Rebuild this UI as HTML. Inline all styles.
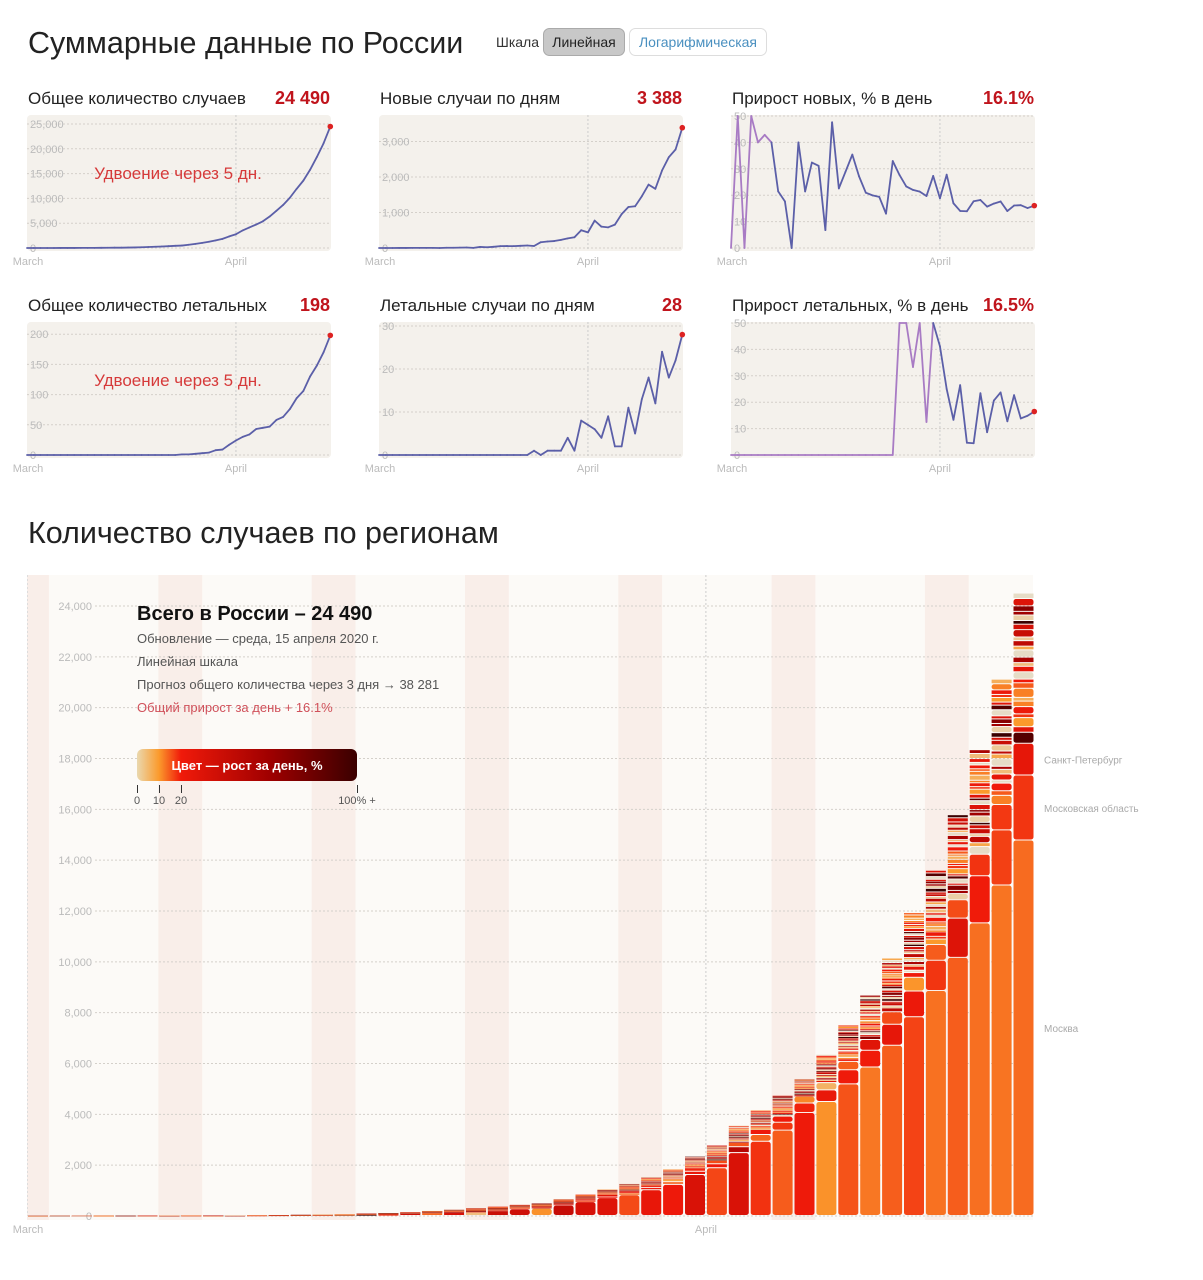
<!DOCTYPE html>
<html><head><meta charset="utf-8">
<style>
html,body{margin:0;padding:0;background:#fff;}
svg{display:block;font-family:"Liberation Sans","DejaVu Sans",sans-serif;}
</style></head>
<body>
<svg id="root" width="1203" height="1280" viewBox="0 0 1203 1280" xmlns="http://www.w3.org/2000/svg">
<defs>
<linearGradient id="lg" x1="0" x2="1" y1="0" y2="0">
<stop offset="0" stop-color="#ead8ae"/><stop offset="0.1" stop-color="#fb9a2c"/><stop offset="0.2" stop-color="#f01a0a"/><stop offset="0.6" stop-color="#a00000"/><stop offset="1" stop-color="#3a0000"/>
</linearGradient>
</defs>
<text x="28" y="53" font-size="30.5" fill="#222">Суммарные данные по России</text>
<text x="496" y="47" font-size="14" fill="#333">Шкала</text>
<g><rect x="543.5" y="28.5" width="81" height="27" rx="6" fill="#c8c8c8" stroke="#aaa"/><text x="584" y="47" font-size="14" fill="#222" text-anchor="middle">Линейная</text></g>
<g><rect x="629.5" y="28.5" width="137" height="27" rx="6" fill="#fff" stroke="#ddd"/><text x="698" y="47" font-size="14" fill="#4a90c0" text-anchor="middle">Логарифмическая</text></g>
<text x="28" y="543" font-size="30.5" fill="#222">Количество случаев по регионам</text>
<g id="small"></g>
<g id="big"></g>
</svg>
<script>
const NS='http://www.w3.org/2000/svg';
const tot=[2,3,3,5,7,10,14,17,20,20,28,34,45,59,63,93,114,147,199,253,306,367,438,495,658,840,1036,1264,1534,1836,2337,2777,3548,4149,4731,5389,6343,7497,8672,10131,11917,13584,15770,18328,21102,24490];
const msk=[0,1,1,1,1,1,3,4,4,5,6,9,16,24,26,53,63,86,98,131,137,191,262,290,410,546,703,817,1014,1226,1613,1880,2475,2923,3357,4054,4484,5181,5841,6698,7822,8852,10158,11513,13002,14776];
const mob=[0,0,0,0,0,0,0,0,0,0,0,0,0,1,3,5,6,10,10,13,16,20,24,36,47,55,66,75,91,104,128,155,231,264,311,371,459,552,662,828,1010,1191,1544,1852,2168,2556];
const spb=[0,0,0,0,0,0,0,0,0,0,0,0,0,0,0,1,3,4,6,10,13,17,21,26,39,50,64,78,96,104,124,144,166,201,242,270,287,329,421,489,540,620,720,850,1000,1250];
const deaths=[0,0,0,0,0,0,0,0,0,0,0,0,0,0,0,0,0,0,0,0,0,0,0,1,1,2,3,4,8,9,17,24,30,34,43,45,47,58,63,76,94,106,130,148,170,198];
const otherShares=[6,3,5,2,4,3,2,5,3,2,4,3,2,3,4,2,3,2,4,3,2,3,2,3,4,3];
const otherGrowth=[18,40,12,60,25,90,8,22,35,15,70,5,28,45,12,100,20,30,55,10,3,7,2,0,0,0];
const ticksCases=[0,5000,10000,15000,20000,25000];
const ticksNew=[0,1000,2000,3000];
const ticksPct=[0,10,20,30,40,50];
const ticksDeaths=[0,50,100,150,200];
const ticksNewDeaths=[0,10,20,30];
const ticksBig=[0,2000,4000,6000,8000,10000,12000,14000,16000,18000,20000,22000,24000];
const weekendStarts=[0,6,13,20,27,34,41];

function mk(tag,attrs,parent){const e=document.createElementNS(NS,tag);for(const k in attrs)e.setAttribute(k,attrs[k]);parent.appendChild(e);return e;}
function fmt(v){return v.toLocaleString('en-US');}
function diff(a){return a.map((v,i)=>i==0?0:v-a[i-1]);}
function growth(a){return a.map((v,i)=>(i>0&&a[i-1]>0)?(v-a[i-1])/a[i-1]*100:0);}
function hex(c){return [parseInt(c.substr(1,2),16),parseInt(c.substr(3,2),16),parseInt(c.substr(5,2),16)];}
const cstops=[[0,'#e6dcc6'],[10,'#fb9a2c'],[20,'#f01a0a'],[60,'#a00000'],[100,'#3a0000']];
function gcol(g){g=Math.max(0,Math.min(100,g));for(let i=1;i<cstops.length;i++){if(g<=cstops[i][0]){const a=cstops[i-1],b=cstops[i];const t=(g-a[0])/(b[0]-a[0]);const A=hex(a[1]),B=hex(b[1]);return 'rgb('+A.map((x,j)=>Math.round(x+(B[j]-x)*t)).join(',')+')';}}return '#3a0000';}

const small=document.getElementById('small');
function smallChart(ox,oy,title,valueText,vals,kPer,ticks,opts,name){
  const g=mk('g',{},small);
  
  
  const zero=248+oy;
  const xs=d=>ox+27+d*6.74;
  const ys=v=>zero-Math.min(v,opts.clip||1e9)*kPer;
  const bg=mk('rect',{x:ox+27,y:115+oy,width:304,height:136,rx:4,fill:'#f4f1ec'},g);
  
  
  const t=mk('text',{x:ox+28,y:104+oy,'font-size':17,fill:'#222'},g);t.textContent=title;
  
  
  const v=mk('text',{x:ox+330,y:104+oy,'font-size':18,'font-weight':'bold',fill:'#c0141c','text-anchor':'end'},g);v.textContent=valueText;
  
  
  ticks.forEach(tv=>{
    const y=ys(tv);
    const l=mk('line',{x1:ox+27,x2:ox+330,y1:y,y2:y,stroke:'#d4d0ca','stroke-dasharray':'2,2'},g);
    
    
    const tx=mk('text',{x:ox+30,y:y+4,'font-size':11,fill:'#bbb'},g);tx.textContent=fmt(tv);
    
    
  });
  const ax=xs(31);
  const vl=mk('line',{x1:ax,x2:ax,y1:115+oy,y2:250+oy,stroke:'#ccc','stroke-dasharray':'2,2'},g);
  
  
  const m=mk('text',{x:ox+28,y:265+oy,'font-size':11,fill:'#bbb','text-anchor':'middle'},g);m.textContent='March';
  
  
  const a=mk('text',{x:ax,y:265+oy,'font-size':11,fill:'#bbb','text-anchor':'middle'},g);a.textContent='April';
  
  
  if(opts.note){const n=mk('text',{x:ox+178,y:179+oy,'font-size':17,fill:'#d63a3a','text-anchor':'middle'},g);n.textContent=opts.note;
    
    }
  for(let i=1;i<vals.length;i++){
    const purple=opts.base&&opts.base[i-1]<=10;
    const s=mk('line',{x1:xs(i-1),y1:ys(vals[i-1]),x2:xs(i),y2:ys(vals[i]),stroke:purple?'#a87bc4':'#5b5fa8','stroke-width':1.8,'stroke-linecap':'round'},g);
    
    
  }
  const L=vals.length-1;
  const dot=mk('circle',{cx:xs(L),cy:ys(vals[L]),r:2.8,fill:'#d22'},g);
  
  
}
const newC=diff(tot), grC=growth(tot), newD=diff(deaths), grD=growth(deaths);
const last=tot.length-1;
smallChart(0,0,'Общее количество случаев',tot[last].toLocaleString('ru-RU').replace(/\s/g,' '),tot,24.8/5000,ticksCases,{note:'Удвоение через 5 дн.'},'total-cases-chart');
smallChart(352,0,'Новые случаи по дням',newC[last].toLocaleString('ru-RU').replace(/\s/g,' '),newC,35.5/1000,ticksNew,{},'new-cases-chart');
smallChart(704,0,'Прирост новых, % в день',grC[last].toFixed(1)+'%',grC,26.4/10,ticksPct,{clip:50,base:tot},'cases-growth-chart');
smallChart(0,207,'Общее количество летальных',String(deaths[last]),deaths,30.2/50,ticksDeaths,{note:'Удвоение через 5 дн.'},'total-deaths-chart');
smallChart(352,207,'Летальные случаи по дням',String(newD[last]),newD,43/10,ticksNewDeaths,{},'new-deaths-chart');
smallChart(704,207,'Прирост летальных, % в день',grD[last].toFixed(1)+'%',grD,26.4/10,ticksPct,{clip:50,base:deaths},'deaths-growth-chart');

// big chart
const big=document.getElementById('big');
const zeroB=1216, kB=610/24000;
const xb=d=>27+d*21.9;
const yb=v=>zeroB-v*kB;
const bbg=mk('rect',{x:27,y:575,width:1006,height:645,fill:'#fcfaf7'},big);


weekendStarts.forEach(d=>{
  const w=(d==0?1:2)*21.9;
  const r=mk('rect',{x:xb(d),y:575,width:w,height:645,fill:'#f9eee9'},big);
  
  
});
const lv=mk('line',{x1:27.5,x2:27.5,y1:575,y2:1216,stroke:'#ddd','stroke-dasharray':'2,2'},big);


ticksBig.forEach(tv=>{
  const y=yb(tv);
  const l=mk('line',{x1:95,x2:1033,y1:y,y2:y,stroke:'#d4d0ca','stroke-dasharray':'2,2'},big);
  
  
  const tx=mk('text',{x:92,y:y+4,'font-size':11,fill:'#bbb','text-anchor':'end'},big);tx.textContent=fmt(tv);
  
  
});
const av=mk('line',{x1:xb(31),x2:xb(31),y1:575,y2:1216,stroke:'#ccc','stroke-dasharray':'2,2'},big);


const bm=mk('text',{x:28,y:1233,'font-size':11,fill:'#bbb','text-anchor':'middle'},big);bm.textContent='March';


const ba=mk('text',{x:xb(31),y:1233,'font-size':11,fill:'#bbb','text-anchor':'middle'},big);ba.textContent='April';


const gM=growth(msk),gO=growth(mob),gS=growth(spb);
const shareSum=otherShares.reduce((a,b)=>a+b,0);
for(let d=0;d<tot.length;d++){
  const bar=mk('g',{},big);
  
  
  const segs=[[msk[d],gcol(gM[d]),'moscow'],[mob[d],gcol(gO[d]),'moscow-oblast'],[spb[d],gcol(gS[d]),'saint-petersburg']];
  const oth=Math.max(0,tot[d]-msk[d]-mob[d]-spb[d]);
  otherShares.forEach((s,k)=>{segs.push([oth*s/shareSum,gcol(otherGrowth[(k*7+d*3)%otherGrowth.length]),'other-region']);});
  let base=0;
  segs.forEach(sg=>{
    if(sg[0]<=0)return;
    const y0=yb(base),y1=yb(base+sg[0]);const h=y0-y1;
    const r=mk('rect',{x:xb(d)+1,y:y1,width:20,height:Math.max(0.3,h>2?h-1:h*0.75),rx:h>6?2.5:0,fill:sg[1]},bar);
    
    
    base+=sg[0];
  });
}
const L=tot.length-1;
[['Москва',msk[L],0],['Московская область',mob[L],msk[L]],['Санкт-Петербург',spb[L],msk[L]+mob[L]]].forEach(r=>{
  const y=(yb(r[2])+yb(r[2]+r[1]))/2+4;
  const t=mk('text',{x:1044,y:y,'font-size':10,fill:'#aaa'},big);t.textContent=r[0];
  
  
});
</script>
<svg style="position:absolute;left:0;top:0" width="1203" height="1280">
<g font-family="Liberation Sans, sans-serif">
<text x="137" y="620" font-size="20" font-weight="bold" fill="#111">Всего в России – 24 490</text>
<text x="137" y="643" font-size="13" fill="#555">Обновление — среда, 15 апреля 2020 г.</text>
<text x="137" y="666" font-size="13" fill="#555">Линейная шкала</text>
<text x="137" y="689" font-size="13" fill="#555">Прогноз общего количества через 3 дня → 38 281</text>
<text x="137" y="712" font-size="13" fill="#d0505a">Общий прирост за день + 16.1%</text>
<g>
<rect x="137" y="749" width="220" height="32" rx="6" fill="url(#lg)"/>
<text x="247" y="770" font-size="13" font-weight="bold" fill="#fff" text-anchor="middle">Цвет — рост за день, %</text>
<line x1="137.5" x2="137.5" y1="785" y2="793" stroke="#333"/>
<line x1="159.5" x2="159.5" y1="785" y2="793" stroke="#333"/>
<line x1="181.5" x2="181.5" y1="785" y2="793" stroke="#333"/>
<line x1="357.5" x2="357.5" y1="785" y2="793" stroke="#333"/>
<text x="137" y="804" font-size="11" fill="#555" text-anchor="middle">0</text>
<text x="159" y="804" font-size="11" fill="#555" text-anchor="middle">10</text>
<text x="181" y="804" font-size="11" fill="#555" text-anchor="middle">20</text>
<text x="357" y="804" font-size="11" fill="#555" text-anchor="middle">100% +</text>
</g>
</g>
</svg>
</body></html>
